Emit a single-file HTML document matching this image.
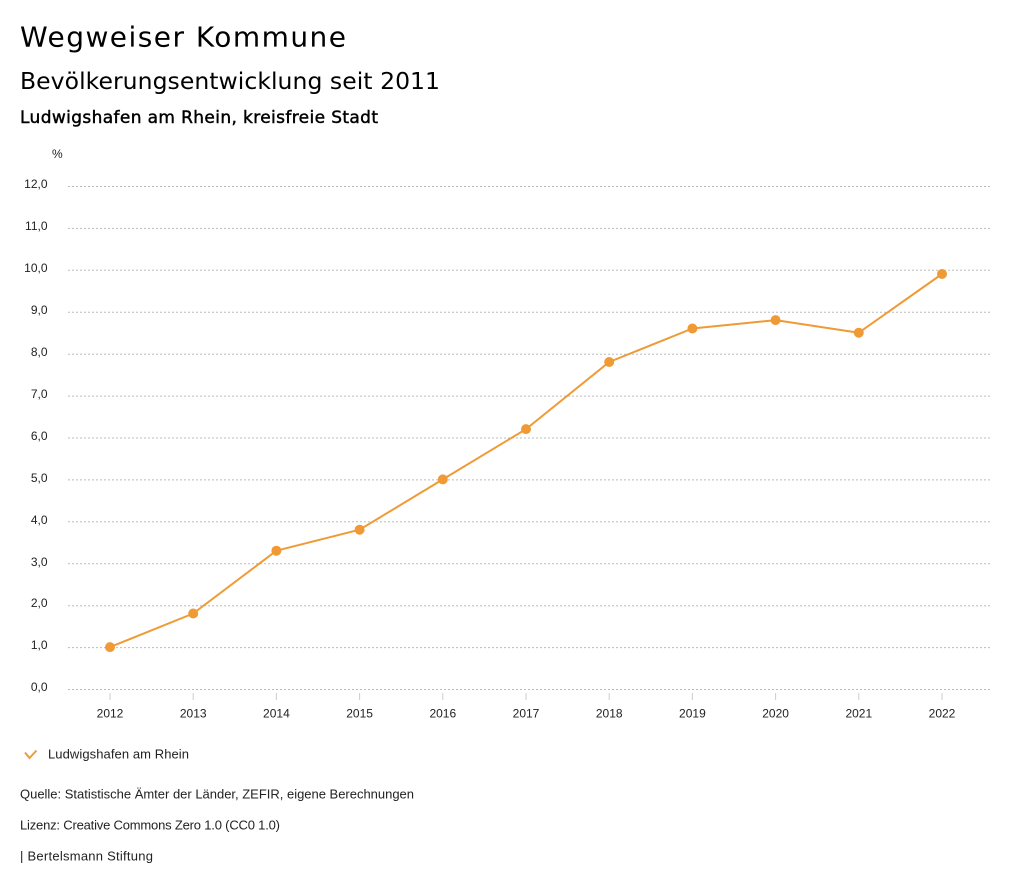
<!DOCTYPE html>
<html><head><meta charset="utf-8">
<style>
html,body{margin:0;padding:0;background:#fff;}
svg{display:block;}
.t{font-family:"DejaVu Sans","Liberation Sans",sans-serif;fill:#000;}
.s{font-family:"Liberation Sans",sans-serif;fill:#222;}
</style></head>
<body>
<svg width="1024" height="888" viewBox="0 0 1024 888" xmlns="http://www.w3.org/2000/svg">
<rect width="1024" height="888" fill="#fff"/>
<text class="t" x="20" y="46.7" font-size="28" textLength="326">Wegweiser Kommune</text>
<text class="t" x="20" y="88.8" font-size="23.5" textLength="420">Bevölkerungsentwicklung seit 2011</text>
<text class="t" x="20" y="123" font-size="17" stroke="#000" stroke-width="0.45" textLength="358">Ludwigshafen am Rhein, kreisfreie Stadt</text>

<text class="s" x="52" y="158" font-size="12">%</text>

<g stroke="#bbb" stroke-width="1" stroke-dasharray="2,2">
<line x1="68" x2="990" y1="186.5" y2="186.5"/>
<line x1="68" x2="990" y1="228.4" y2="228.4"/>
<line x1="68" x2="990" y1="270.3" y2="270.3"/>
<line x1="68" x2="990" y1="312.2" y2="312.2"/>
<line x1="68" x2="990" y1="354.2" y2="354.2"/>
<line x1="68" x2="990" y1="396.1" y2="396.1"/>
<line x1="68" x2="990" y1="438.0" y2="438.0"/>
<line x1="68" x2="990" y1="479.9" y2="479.9"/>
<line x1="68" x2="990" y1="521.8" y2="521.8"/>
<line x1="68" x2="990" y1="563.7" y2="563.7"/>
<line x1="68" x2="990" y1="605.7" y2="605.7"/>
<line x1="68" x2="990" y1="647.6" y2="647.6"/>
<line x1="68" x2="990" y1="689.5" y2="689.5"/>
</g>

<g class="s" font-size="12" text-anchor="end">
<text x="47.5" y="188">12,0</text>
<text x="47.5" y="230">11,0</text>
<text x="47.5" y="272">10,0</text>
<text x="47.5" y="314">9,0</text>
<text x="47.5" y="356">8,0</text>
<text x="47.5" y="398">7,0</text>
<text x="47.5" y="440">6,0</text>
<text x="47.5" y="482">5,0</text>
<text x="47.5" y="524">4,0</text>
<text x="47.5" y="566">3,0</text>
<text x="47.5" y="607">2,0</text>
<text x="47.5" y="649">1,0</text>
<text x="47.5" y="691">0,0</text>
</g>

<g stroke="#ccc" stroke-width="1">
<line x1="110" x2="110" y1="693" y2="700"/>
<line x1="193.2" x2="193.2" y1="693" y2="700"/>
<line x1="276.4" x2="276.4" y1="693" y2="700"/>
<line x1="359.6" x2="359.6" y1="693" y2="700"/>
<line x1="442.8" x2="442.8" y1="693" y2="700"/>
<line x1="526" x2="526" y1="693" y2="700"/>
<line x1="609.2" x2="609.2" y1="693" y2="700"/>
<line x1="692.4" x2="692.4" y1="693" y2="700"/>
<line x1="775.6" x2="775.6" y1="693" y2="700"/>
<line x1="858.8" x2="858.8" y1="693" y2="700"/>
<line x1="942" x2="942" y1="693" y2="700"/>
</g>

<g class="s" font-size="12" text-anchor="middle">
<text x="110" y="717.7">2012</text>
<text x="193.2" y="717.7">2013</text>
<text x="276.4" y="717.7">2014</text>
<text x="359.6" y="717.7">2015</text>
<text x="442.8" y="717.7">2016</text>
<text x="526" y="717.7">2017</text>
<text x="609.2" y="717.7">2018</text>
<text x="692.4" y="717.7">2019</text>
<text x="775.6" y="717.7">2020</text>
<text x="858.8" y="717.7">2021</text>
<text x="942" y="717.7">2022</text>
</g>

<polyline fill="none" stroke="#f09a35" stroke-width="2" stroke-linejoin="round"
 points="110,647.1 193.2,613.5 276.4,550.7 359.6,529.7 442.8,479.4 526,429.1 609.2,362.0 692.4,328.5 775.6,320.1 858.8,332.7 942,274.0"/>
<g fill="#f09a35">
<circle cx="110" cy="647.1" r="5"/>
<circle cx="193.2" cy="613.5" r="5"/>
<circle cx="276.4" cy="550.7" r="5"/>
<circle cx="359.6" cy="529.7" r="5"/>
<circle cx="442.8" cy="479.4" r="5"/>
<circle cx="526" cy="429.1" r="5"/>
<circle cx="609.2" cy="362.0" r="5"/>
<circle cx="692.4" cy="328.5" r="5"/>
<circle cx="775.6" cy="320.1" r="5"/>
<circle cx="858.8" cy="332.7" r="5"/>
<circle cx="942" cy="274.0" r="5"/>
</g>

<polyline fill="none" stroke="#f09a35" stroke-width="2" points="25,752.5 29.5,758 36.5,750.5"/>
<text class="s" x="48" y="758.5" font-size="13" textLength="141">Ludwigshafen am Rhein</text>

<text class="s" x="20" y="798.3" font-size="13" textLength="394">Quelle: Statistische Ämter der Länder, ZEFIR, eigene Berechnungen</text>
<text class="s" x="20" y="829.3" font-size="13" textLength="260">Lizenz: Creative Commons Zero 1.0 (CC0 1.0)</text>
<text class="s" x="20" y="860.7" font-size="13" textLength="133">| Bertelsmann Stiftung</text>
</svg>
</body></html>
